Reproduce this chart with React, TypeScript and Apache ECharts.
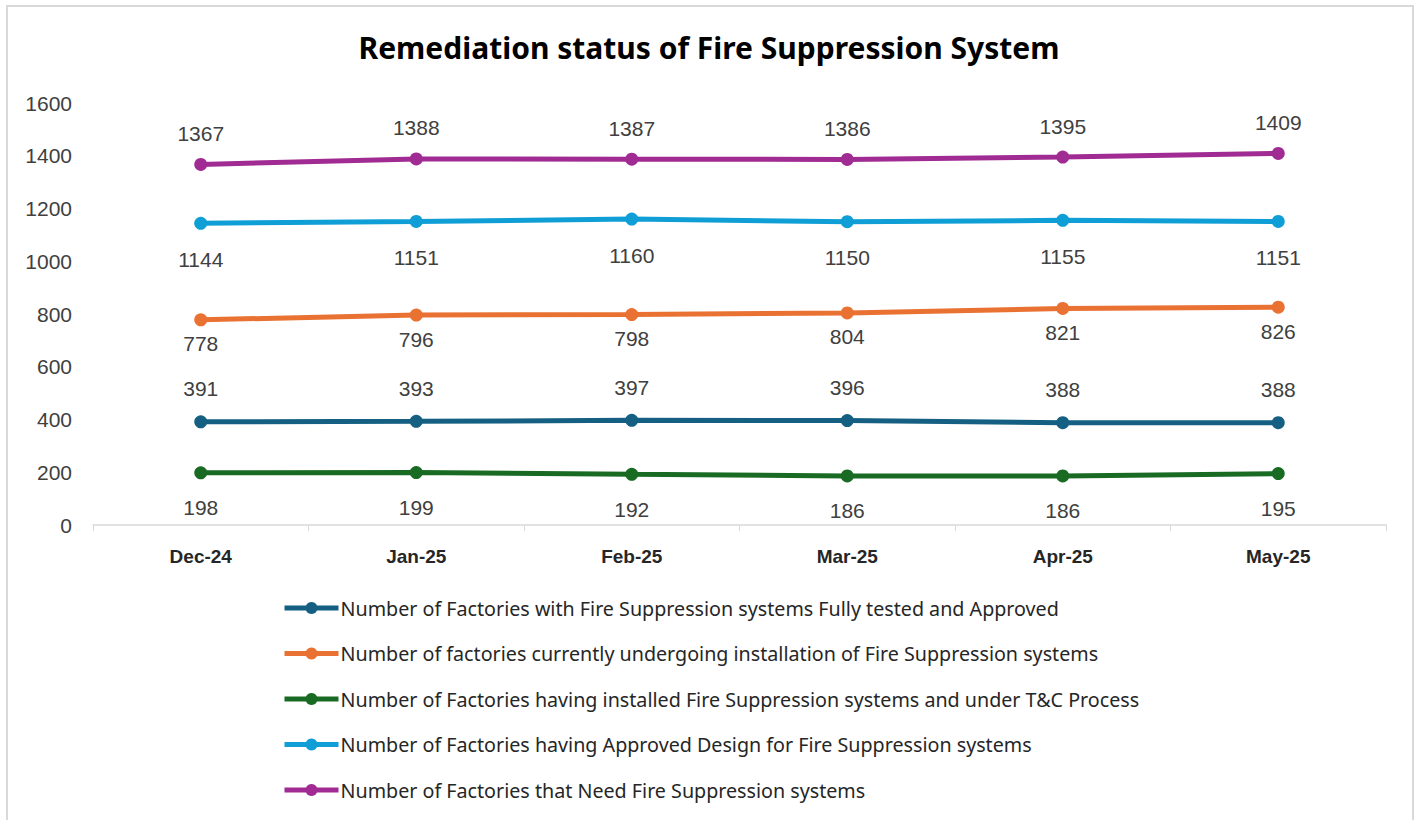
import React, { useEffect, useRef } from "react";
import * as echarts from "echarts";

const months = ["Dec-24", "Jan-25", "Feb-25", "Mar-25", "Apr-25", "May-25"];
const fullyTested = [391, 393, 397, 396, 388, 388];
const underInstall = [778, 796, 798, 804, 821, 826];
const underTC = [198, 199, 192, 186, 186, 195];
const approvedDesign = [1144, 1151, 1160, 1150, 1155, 1151];
const needFSS = [1367, 1388, 1387, 1386, 1395, 1409];
const seriesNames = [
  "Number of Factories with Fire Suppression systems Fully tested and Approved",
  "Number of factories currently undergoing installation of Fire Suppression systems",
  "Number of Factories having installed Fire Suppression systems and under T&C Process",
  "Number of Factories having Approved Design for Fire Suppression systems",
  "Number of Factories that Need Fire Suppression systems",
];
const colors = ["#156082", "#E97132", "#196B24", "#0F9ED5", "#A02B93"];

export default function App() {
  const ref = useRef<HTMLDivElement>(null);
  useEffect(() => {
    if (!ref.current) return;
    const chart = echarts.init(ref.current, null, { renderer: "svg" });
    const mk = (i: number, data: number[], pos: string, dist: number) => ({
      name: seriesNames[i],
      type: "line",
      data,
      color: colors[i],
      symbol: "circle",
      symbolSize: 13,
      lineStyle: { width: 5, color: colors[i] },
      itemStyle: { color: colors[i] },
      label: {
        show: true,
        position: pos,
        distance: dist,
        fontSize: 21,
        color: "#404040",
        fontFamily: "Liberation Sans, Arial, sans-serif",
      },
    });
    chart.setOption({
      animation: false,
      backgroundColor: "#ffffff",
      title: {
        text: "Remediation status of Fire Suppression System",
        left: "center",
        top: 27,
        textStyle: {
          fontSize: 30,
          fontWeight: "bold",
          color: "#000000",
          fontFamily: "Noto Sans, sans-serif",
        },
      },
      graphic: [
        {
          type: "rect",
          shape: { x: 7, y: 6, width: 1406, height: 830 },
          style: { fill: "none", stroke: "#d9d9d9", lineWidth: 2 },
          silent: true,
          z: -1,
        },
      ],
      grid: { left: 93, right: 32, top: 103, bottom: 295 },
      legend: {
        orient: "vertical",
        left: 277,
        top: 593,
        itemWidth: 54,
        itemHeight: 15,
        itemGap: 25.5,
        data: seriesNames,
        lineStyle: { width: 5 },
        textStyle: {
          fontSize: 19.7,
          lineHeight: 20,
          color: "#262626",
          fontFamily: "Noto Sans, sans-serif",
          padding: [0, 0, 0, -3],
        },
      },
      xAxis: {
        type: "category",
        data: months,
        boundaryGap: true,
        axisLine: { lineStyle: { color: "#d9d9d9", width: 1.5 } },
        axisTick: { show: true, length: 6, lineStyle: { color: "#d9d9d9" } },
        axisLabel: {
          fontSize: 19,
          fontWeight: "bold",
          color: "#262626",
          margin: 22,
          fontFamily: "Liberation Sans, Arial, sans-serif",
        },
      },
      yAxis: {
        type: "value",
        min: 0,
        max: 1600,
        interval: 200,
        splitLine: { show: false },
        axisLine: { show: false },
        axisTick: { show: false },
        axisLabel: {
          fontSize: 21,
          color: "#404040",
          margin: 21,
          formatter: (v: number) => String(v),
          fontFamily: "Liberation Sans, Arial, sans-serif",
        },
      },
      series: [
        mk(0, fullyTested, "top", 16),
        mk(1, underInstall, "bottom", 7),
        mk(2, underTC, "bottom", 18),
        mk(3, approvedDesign, "bottom", 19),
        mk(4, needFSS, "top", 14),
      ],
    });
    return () => chart.dispose();
  }, []);
  return (
    <div
      ref={ref}
      style={{ position: "fixed", left: 0, top: 0, width: 1418, height: 820 }}
    />
  );
}
